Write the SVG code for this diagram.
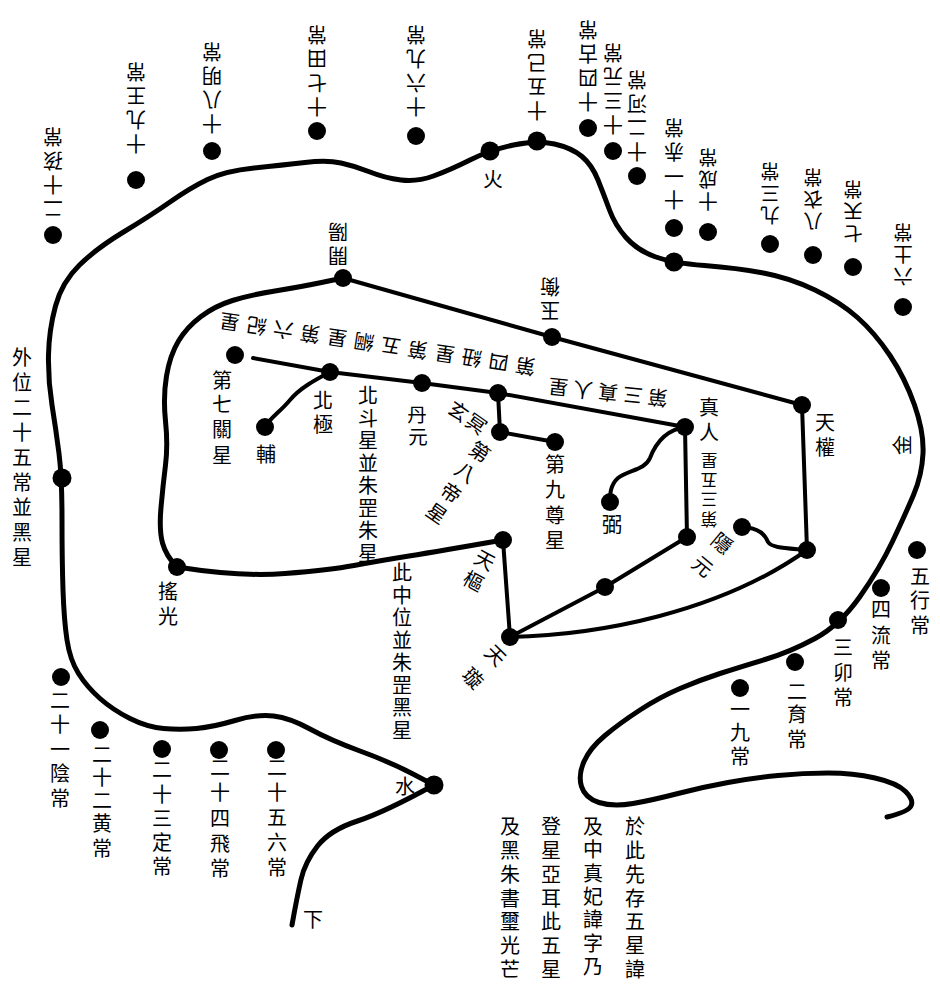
<svg xmlns="http://www.w3.org/2000/svg" width="940" height="984" viewBox="0 0 940 984">
<style>
.ln{fill:none;stroke:#000;stroke-linecap:round;stroke-linejoin:round}
.o{stroke-width:5}
.i{stroke-width:4}
circle{fill:#000}
text{font-family:"Liberation Sans","Noto Sans CJK TC","Noto Sans CJK SC",sans-serif;font-size:20px;fill:#000;text-anchor:middle;dominant-baseline:central}
.n{font-size:19.5px}
.xs{font-size:17px}
</style>
<rect width="940" height="984" fill="#fff"/>
<g id="connectors">
<path class="ln o" d="M434,785 L412,773.5 Q390,762 360,751 Q330,740 310,729 Q290,718 273.5,716 Q257,714 235,720.5 Q213,727 196.5,728.5 Q180,730 163.5,728.5 Q147,727 130,718.5 Q113,710 100,698.5 Q87,687 78.5,673.5 Q70,660 67,640 Q64,620 63,590 Q62,560 62,518.5 Q62,477 59,453.5 Q56,430 52,405 Q48,380 48.5,355 Q49,330 55.5,306 Q62,282 79.5,265 Q97,248 123.5,232 Q150,216 170,202 Q190,188 207.5,179.5 Q225,171 254,168 Q283,165 305,162.5 Q327,160 341,163 Q355,166 370,172 Q385,178 401,180 Q417,182 433.5,176 Q450,170 470,160 Q490,150 513.5,145 Q537,140 554.5,144 Q572,148 582,156.5 Q592,165 598,180 Q604,195 609.5,210 Q615,225 626,237.5 Q637,250 654.5,256.5 Q672,263 704.5,265.5 Q737,268 763.5,273 Q790,278 815,290 Q840,302 857.5,317.5 Q875,333 890,355.5 Q905,378 914.5,405 Q924,432 923,453.5 Q922,475 913.5,495 Q905,515 892.5,541.5 Q880,568 860,596.5 Q840,625 815,638.5 Q790,652 765,659.5 Q740,667 720,673.5 Q700,680 680,688.5 Q660,697 640,710 Q620,723 605,735.5 Q590,748 584,761.5 Q578,775 581.5,786.5 Q585,798 599,802.5 Q613,807 633,803.5 Q653,800 678,793.5 Q703,787 728,782.5 Q753,778 778,775.5 Q803,773 828,773 Q853,773 875,778 Q897,783 905.5,791.5 Q914,800 911,806 Q908,812 887,817"/>
<path class="ln o" d="M292,925 Q297,897 301,879.5 Q305,862 317.5,846 Q330,830 357.5,821 Q385,812 434,785"/>
<path class="ln o" d="M343,278 L321.5,282.5 Q300,287 275,291 Q250,295 232.5,300.5 Q215,306 201,316.5 Q187,327 178.5,341 Q170,355 166.5,376 Q163,397 165.5,421 Q168,445 165.5,465 Q163,485 161,507.5 Q159,530 162.5,543 Q166,556 177,567"/>
<path class="ln o" d="M177,567 Q240,577 285,573.5 Q330,570 354,565.5 Q378,561 409,556 Q440,551 503,540"/>
<path class="ln i" d="M343,278 L552,337 L802,405 L807,550"/>
<path class="ln i" d="M503,540 L510,637 L605,587 L687,537 L685,427"/>
<path class="ln i" d="M510,637 C600,635 720,612 807,550"/>
<path class="ln i" d="M742,527 C760,528 765,535 768,542 C772,548 785,548 807,550"/>
<path class="ln i" d="M253,358 L330,372 L422,383 L498,393 L685,427"/>
<path class="ln i" d="M498,393 L500,432 L555,442"/>
<path class="ln i" d="M685,427 C665,430 655,445 650,458 C645,470 628,470 618,478 C610,485 610,495 610,502"/>
<path class="ln i" d="M330,372 C315,380 300,388 290,400 C280,412 270,418 265,427"/>
</g>
<g id="outer-nodes">
<g id="fire"><circle cx="490" cy="151" r="9.5"/><text x="493" y="180">火</text></g>
<g id="water"><circle cx="434" cy="785" r="9.5"/><text x="405" y="787">水</text></g>
<g id="wood-node"><circle cx="674" cy="262" r="9.5"/></g>
<g id="left-node"><circle cx="62" cy="478" r="9.5"/></g>
<g id="metal"><text transform="rotate(-90 903 445)" x="903" y="445">金</text></g>
<g id="below"><text x="313" y="920">下</text></g>
</g>
<g id="constants">
<g id="c1"><circle cx="740" cy="688" r="9"/><text><tspan x="740" y="710">一</tspan><tspan x="740" y="733">九</tspan><tspan x="740" y="757">常</tspan></text></g>
<g id="c2"><circle cx="795" cy="662" r="9"/><text><tspan x="797" y="692">二</tspan><tspan x="797" y="715">育</tspan><tspan x="797" y="740">常</tspan></text></g>
<g id="c3"><circle cx="838" cy="620" r="9"/><text><tspan x="843" y="648">三</tspan><tspan x="843" y="673">卯</tspan><tspan x="843" y="698">常</tspan></text></g>
<g id="c4"><circle cx="881" cy="588" r="9"/><text><tspan x="881" y="610">四</tspan><tspan x="881" y="636">流</tspan><tspan x="881" y="661">常</tspan></text></g>
<g id="c5"><circle cx="917" cy="550" r="9"/><text><tspan x="920" y="577">五</tspan><tspan x="920" y="601">行</tspan><tspan x="920" y="626">常</tspan></text></g>
<g id="c6"><circle cx="903" cy="307" r="9"/><text class="n" transform="rotate(180 903 254)"><tspan x="903" y="232">六</tspan><tspan x="903" y="254">土</tspan><tspan x="903" y="276">常</tspan></text></g>
<g id="c7"><circle cx="853" cy="267" r="9"/><text class="n" transform="rotate(180 853 211)"><tspan x="853" y="189">七</tspan><tspan x="853" y="211">天</tspan><tspan x="853" y="233">常</tspan></text></g>
<g id="c8"><circle cx="813" cy="255" r="9"/><text class="n" transform="rotate(180 813 199)"><tspan x="813" y="177">八</tspan><tspan x="813" y="199">衣</tspan><tspan x="813" y="221">常</tspan></text></g>
<g id="c9"><circle cx="770" cy="244" r="9"/><text class="n" transform="rotate(180 770 193)"><tspan x="770" y="171">九</tspan><tspan x="770" y="193">三</tspan><tspan x="770" y="215">常</tspan></text></g>
<g id="c10"><circle cx="708" cy="232" r="9"/><text class="n" transform="rotate(180 708 179)"><tspan x="708" y="157">十</tspan><tspan x="708" y="179">成</tspan><tspan x="708" y="201">常</tspan></text></g>
<g id="c11"><circle cx="674" cy="228" r="9"/><text transform="rotate(180 674 163)"><tspan x="674" y="127">十</tspan><tspan x="674" y="151">一</tspan><tspan x="674" y="175">赤</tspan><tspan x="674" y="199">常</tspan></text></g>
<g id="c12"><circle cx="637" cy="176" r="9"/><text transform="rotate(180 637 115)"><tspan x="637" y="79">十</tspan><tspan x="637" y="103">二</tspan><tspan x="637" y="127">河</tspan><tspan x="637" y="151">常</tspan></text></g>
<g id="c13"><circle cx="613" cy="151" r="9"/><text transform="rotate(180 613 88)"><tspan x="613" y="52">十</tspan><tspan x="613" y="76">三</tspan><tspan x="613" y="100">元</tspan><tspan x="613" y="124">常</tspan></text></g>
<g id="c14"><circle cx="588" cy="128" r="9"/><text transform="rotate(180 588 65)"><tspan x="588" y="29">十</tspan><tspan x="588" y="53">四</tspan><tspan x="588" y="77">古</tspan><tspan x="588" y="101">常</tspan></text></g>
<g id="c15"><circle cx="537" cy="141" r="9.5"/><text transform="rotate(180 537 74)"><tspan x="537" y="38">十</tspan><tspan x="537" y="62">五</tspan><tspan x="537" y="86">己</tspan><tspan x="537" y="110">常</tspan></text></g>
<g id="c16"><circle cx="416" cy="136" r="9"/><text transform="rotate(180 416 70)"><tspan x="416" y="34">十</tspan><tspan x="416" y="58">六</tspan><tspan x="416" y="82">九</tspan><tspan x="416" y="106">常</tspan></text></g>
<g id="c17"><circle cx="317" cy="131" r="9"/><text transform="rotate(180 317 70)"><tspan x="317" y="34">十</tspan><tspan x="317" y="58">七</tspan><tspan x="317" y="82">田</tspan><tspan x="317" y="106">常</tspan></text></g>
<g id="c18"><circle cx="212" cy="151" r="9"/><text transform="rotate(180 212 87)"><tspan x="212" y="51">十</tspan><tspan x="212" y="75">八</tspan><tspan x="212" y="99">明</tspan><tspan x="212" y="123">常</tspan></text></g>
<g id="c19"><circle cx="136" cy="180" r="9"/><text transform="rotate(180 136 107)"><tspan x="136" y="71">十</tspan><tspan x="136" y="95">九</tspan><tspan x="136" y="119">王</tspan><tspan x="136" y="143">常</tspan></text></g>
<g id="c20"><circle cx="53" cy="235" r="9"/><text transform="rotate(180 53 172)"><tspan x="53" y="136">二</tspan><tspan x="53" y="160">十</tspan><tspan x="53" y="184">孩</tspan><tspan x="53" y="208">常</tspan></text></g>
<g id="c21"><circle cx="61" cy="677" r="9"/><text><tspan x="60" y="701">二</tspan><tspan x="60" y="725">十</tspan><tspan x="60" y="750">一</tspan><tspan x="60" y="774">陰</tspan><tspan x="60" y="799">常</tspan></text></g>
<g id="c22"><circle cx="100" cy="730" r="9"/><text><tspan x="102" y="755">二</tspan><tspan x="102" y="778">十</tspan><tspan x="102" y="801">二</tspan><tspan x="102" y="824">黄</tspan><tspan x="102" y="849">常</tspan></text></g>
<g id="c23"><circle cx="162" cy="749" r="9"/><text><tspan x="162" y="770">二</tspan><tspan x="162" y="795">十</tspan><tspan x="162" y="819">三</tspan><tspan x="162" y="843">定</tspan><tspan x="162" y="867">常</tspan></text></g>
<g id="c24"><circle cx="219" cy="750" r="9"/><text><tspan x="220" y="768">二</tspan><tspan x="220" y="793">十</tspan><tspan x="220" y="819">四</tspan><tspan x="220" y="844">飛</tspan><tspan x="220" y="869">常</tspan></text></g>
<g id="c25"><circle cx="276" cy="750" r="9"/><text><tspan x="277" y="768">二</tspan><tspan x="277" y="793">十</tspan><tspan x="277" y="818">五</tspan><tspan x="277" y="843">六</tspan><tspan x="277" y="868">常</tspan></text></g>
</g>
<g id="dipper">
<g id="kaiyang"><circle cx="343" cy="278" r="9"/><text transform="rotate(180 338 243)"><tspan x="338" y="231">開</tspan><tspan x="338" y="255">陽</tspan></text></g>
<g id="yuheng"><circle cx="552" cy="337" r="9"/><text transform="rotate(180 550 298)"><tspan x="550" y="286">玉</tspan><tspan x="550" y="310">衡</tspan></text></g>
<g id="tianquan"><circle cx="802" cy="405" r="9"/><text><tspan x="825" y="423">天</tspan><tspan x="825" y="448">權</tspan></text></g>
<g id="corner"><circle cx="807" cy="550" r="9"/></g>
<g id="yinyuan"><circle cx="742" cy="527" r="9"/><text transform="translate(712 555) rotate(40)"><tspan x="0" y="-15">隱</tspan><tspan x="0" y="15">元</tspan></text></g>
<g id="node-687"><circle cx="687" cy="537" r="9"/></g>
<g id="node-605"><circle cx="605" cy="587" r="9"/></g>
<g id="tianxuan"><circle cx="510" cy="637" r="9"/><text transform="translate(484 667) rotate(45)"><tspan x="0" y="-16">天</tspan><tspan x="0" y="16">璇</tspan></text></g>
<g id="tianshu"><circle cx="503" cy="540" r="9"/><text transform="translate(479 571) rotate(28)"><tspan x="0" y="-12">天</tspan><tspan x="0" y="12">樞</tspan></text></g>
<g id="yaoguang"><circle cx="177" cy="567" r="9"/><text><tspan x="168" y="592">搖</tspan><tspan x="168" y="617">光</tspan></text></g>
<g id="zhenren"><circle cx="685" cy="427" r="9"/><text><tspan x="709" y="408">真</tspan><tspan x="709" y="433">人</tspan></text><text class="xs" transform="rotate(180 709 490)"><tspan x="709" y="461">第</tspan><tspan x="709" y="481">三</tspan><tspan x="709" y="500">五</tspan><tspan x="709" y="520">星</tspan></text></g>
<g id="bi"><circle cx="610" cy="502" r="9"/><text x="612" y="525">弼</text></g>
<g id="xuanming"><circle cx="498" cy="393" r="9"/><text transform="translate(467 418) rotate(35)"><tspan x="-11" y="0">玄</tspan><tspan x="11" y="0">冥</tspan></text></g>
<g id="node-500"><circle cx="500" cy="432" r="9"/><text transform="translate(458 483) rotate(35)"><tspan x="0" y="-37.5">第</tspan><tspan x="0" y="-12.5">八</tspan><tspan x="0" y="12.5">帝</tspan><tspan x="0" y="37.5">星</tspan></text></g>
<g id="zunxing"><circle cx="555" cy="442" r="9"/><text><tspan x="555" y="465">第</tspan><tspan x="555" y="490">九</tspan><tspan x="555" y="516">尊</tspan><tspan x="555" y="541">星</tspan></text></g>
<g id="danyuan"><circle cx="422" cy="383" r="9"/><text class="n"><tspan x="417" y="415">丹</tspan><tspan x="418" y="437">元</tspan></text></g>
<g id="beiji"><circle cx="330" cy="372" r="9"/><text><tspan x="323" y="401">北</tspan><tspan x="323" y="425">極</tspan></text></g>
<g id="fu"><circle cx="265" cy="427" r="9"/><text x="266" y="455">輔</text></g>
<g id="guanxing"><circle cx="235" cy="355" r="9"/><text><tspan x="222" y="381">第</tspan><tspan x="222" y="405">七</tspan><tspan x="222" y="430">關</tspan><tspan x="222" y="456">星</tspan></text></g>
</g>
<g id="notes">
<text transform="translate(608 392) rotate(186)"><tspan x="-50" y="0">第</tspan><tspan x="-25" y="0">三</tspan><tspan x="0" y="0">真</tspan><tspan x="25" y="0">人</tspan><tspan x="50" y="0">星</tspan></text>
<text transform="translate(377.5 343.5) rotate(188.5)"><tspan x="-149.6" y="0">第</tspan><tspan x="-122.4" y="0">四</tspan><tspan x="-95.2" y="0">紐</tspan><tspan x="-68" y="0">星</tspan><tspan x="-40.8" y="0">第</tspan><tspan x="-13.6" y="0">五</tspan><tspan x="13.6" y="0">綱</tspan><tspan x="40.8" y="0">星</tspan><tspan x="68" y="0">第</tspan><tspan x="95.2" y="0">六</tspan><tspan x="122.4" y="0">紀</tspan><tspan x="149.6" y="0">星</tspan></text>
<text><tspan x="368" y="396">北</tspan><tspan x="368" y="418.5">斗</tspan><tspan x="368" y="441">星</tspan><tspan x="368" y="463.5">並</tspan><tspan x="368" y="486">朱</tspan><tspan x="368" y="508.5">罡</tspan><tspan x="368" y="531">朱</tspan><tspan x="368" y="553.5">星</tspan></text>
<text><tspan x="402" y="573">此</tspan><tspan x="402" y="595.5">中</tspan><tspan x="402" y="618">位</tspan><tspan x="402" y="640.5">並</tspan><tspan x="402" y="663">朱</tspan><tspan x="402" y="685.5">罡</tspan><tspan x="402" y="708">黑</tspan><tspan x="402" y="730.5">星</tspan></text>
<text><tspan x="22" y="358">外</tspan><tspan x="22" y="383">位</tspan><tspan x="22" y="408">二</tspan><tspan x="22" y="433">十</tspan><tspan x="22" y="458">五</tspan><tspan x="22" y="483">常</tspan><tspan x="22" y="508">並</tspan><tspan x="22" y="533">黑</tspan><tspan x="22" y="558">星</tspan></text>
<text><tspan x="635" y="827">於</tspan><tspan x="635" y="851">此</tspan><tspan x="635" y="875">先</tspan><tspan x="635" y="899">存</tspan><tspan x="635" y="922">五</tspan><tspan x="635" y="946">星</tspan><tspan x="635" y="970">諱</tspan></text>
<text><tspan x="593" y="827">及</tspan><tspan x="593" y="850">中</tspan><tspan x="593" y="874">真</tspan><tspan x="593" y="897">妃</tspan><tspan x="593" y="920">諱</tspan><tspan x="593" y="944">字</tspan><tspan x="593" y="967">乃</tspan></text>
<text><tspan x="551" y="827">登</tspan><tspan x="551" y="851">星</tspan><tspan x="551" y="875">亞</tspan><tspan x="551" y="899">耳</tspan><tspan x="551" y="922">此</tspan><tspan x="551" y="946">五</tspan><tspan x="551" y="970">星</tspan></text>
<text><tspan x="510" y="827">及</tspan><tspan x="510" y="851">黑</tspan><tspan x="510" y="875">朱</tspan><tspan x="510" y="899">書</tspan><tspan x="510" y="922">璽</tspan><tspan x="510" y="946">光</tspan><tspan x="510" y="970">芒</tspan></text>
</g>
</svg>
